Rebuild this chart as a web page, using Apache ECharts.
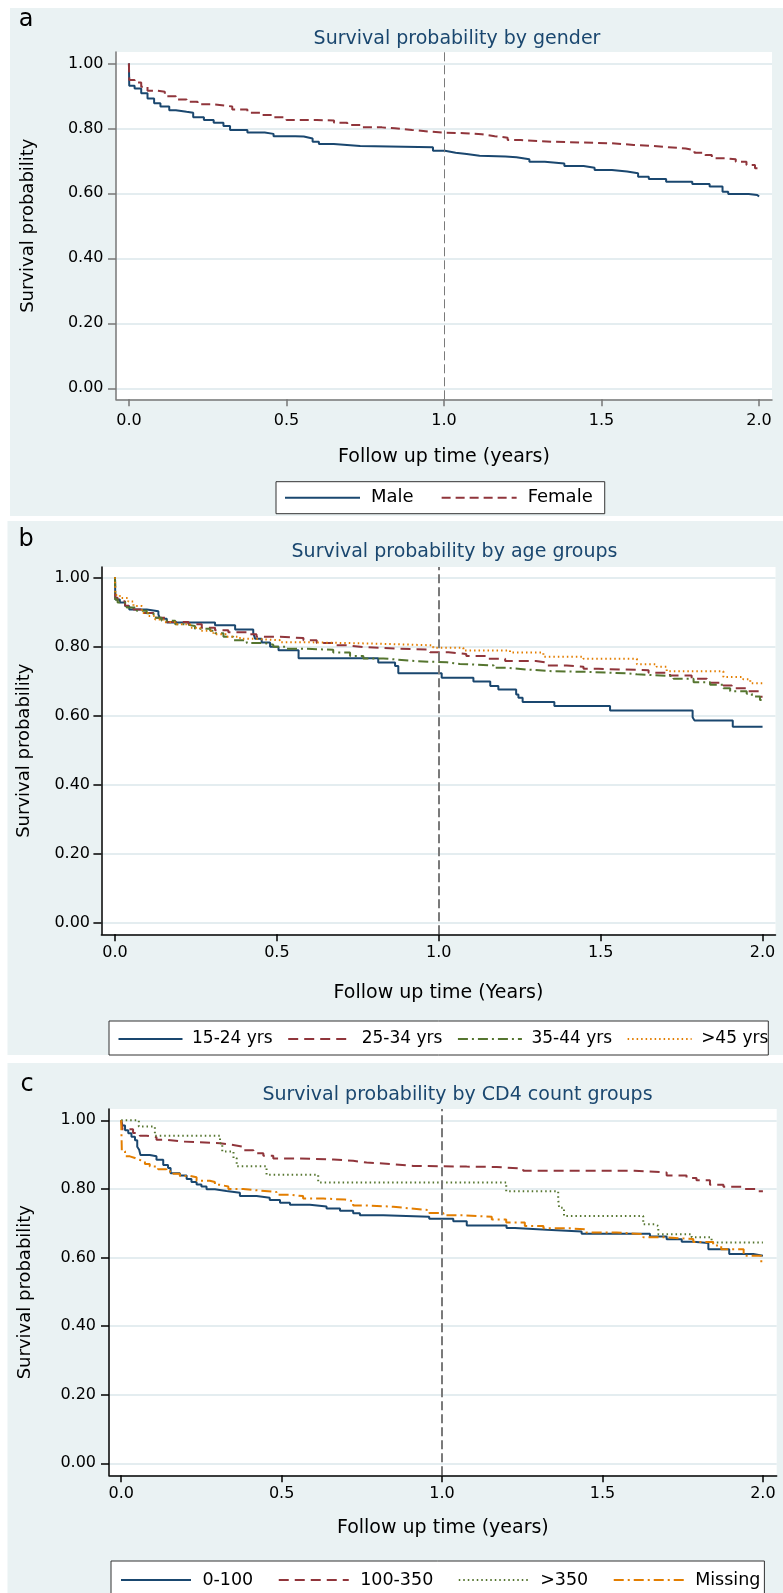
<!DOCTYPE html>
<html>
<head>
<meta charset="utf-8">
<title>Survival probability</title>
<script src="https://cdn.jsdelivr.net/npm/echarts@6/dist/echarts.min.js"></script>
<style>
  html, body { margin: 0; padding: 0; background: #fff; }
  #chart { width: 783px; height: 1593px; }
</style>
</head>
<body>
<div id="chart"></div>
<script>
// a - gender
const maleT = [0, 0.001, 0.018, 0.039, 0.059, 0.08, 0.10, 0.128, 0.149, 0.183, 0.204, 0.238, 0.269, 0.30, 0.321, 0.376, 0.431, 0.459, 0.528, 0.555, 0.583, 0.603, 0.650, 0.734, 0.965, 1.003, 1.037, 1.072, 1.113, 1.195, 1.23, 1.271, 1.32, 1.382, 1.443, 1.478, 1.533, 1.581, 1.616, 1.65, 1.705, 1.788, 1.843, 1.884, 1.902, 1.967, 1.994, 2.0];
const maleS = [1, 0.931, 0.923, 0.908, 0.892, 0.877, 0.867, 0.856, 0.851, 0.848, 0.834, 0.826, 0.817, 0.807, 0.795, 0.787, 0.783, 0.776, 0.775, 0.769, 0.759, 0.752, 0.746, 0.742, 0.731, 0.725, 0.721, 0.716, 0.713, 0.711, 0.705, 0.697, 0.692, 0.684, 0.679, 0.672, 0.667, 0.662, 0.651, 0.644, 0.636, 0.629, 0.621, 0.605, 0.598, 0.595, 0.590, 0.590];
const femaleT = [0, 0.001, 0.018, 0.039, 0.059, 0.087, 0.114, 0.149, 0.183, 0.218, 0.266, 0.307, 0.328, 0.376, 0.424, 0.459, 0.5, 0.596, 0.651, 0.693, 0.741, 0.803, 0.844, 0.899, 0.955, 0.995, 1.065, 1.12, 1.161, 1.202, 1.244, 1.34, 1.533, 1.602, 1.657, 1.712, 1.767, 1.795, 1.829, 1.85, 1.891, 1.926, 1.96, 1.987, 2.0];
const femaleS = [1, 0.949, 0.941, 0.928, 0.916, 0.913, 0.899, 0.889, 0.882, 0.874, 0.870, 0.867, 0.858, 0.848, 0.841, 0.834, 0.826, 0.824, 0.817, 0.810, 0.803, 0.800, 0.795, 0.790, 0.787, 0.785, 0.782, 0.776, 0.771, 0.764, 0.759, 0.754, 0.749, 0.746, 0.742, 0.738, 0.733, 0.725, 0.718, 0.708, 0.705, 0.697, 0.687, 0.677, 0.672];

// b - age groups
const age1T = [0, 0.001, 0.015, 0.031, 0.044, 0.098, 0.134, 0.139, 0.16, 0.309, 0.371, 0.427, 0.433, 0.453, 0.479, 0.505, 0.567, 0.813, 0.865, 0.875, 1.009, 1.107, 1.159, 1.184, 1.239, 1.246, 1.259, 1.357, 1.529, 1.784, 1.79, 1.908, 2.0];
const age1S = [1, 0.936, 0.927, 0.917, 0.907, 0.902, 0.893, 0.880, 0.869, 0.861, 0.849, 0.838, 0.822, 0.811, 0.799, 0.789, 0.766, 0.753, 0.743, 0.722, 0.709, 0.698, 0.685, 0.675, 0.661, 0.651, 0.639, 0.627, 0.614, 0.595, 0.585, 0.567, 0.567];
const age2T = [0, 0.001, 0.008, 0.031, 0.057, 0.083, 0.119, 0.16, 0.227, 0.268, 0.309, 0.35, 0.407, 0.437, 0.51, 0.582, 0.623, 0.674, 0.716, 0.767, 0.88, 0.973, 1.03, 1.085, 1.153, 1.205, 1.3, 1.333, 1.395, 1.447, 1.493, 1.648, 1.714, 1.781, 1.828, 1.879, 1.905, 1.957, 1.992, 2.0];
const age2S = [1, 0.941, 0.931, 0.918, 0.907, 0.897, 0.883, 0.871, 0.864, 0.854, 0.847, 0.841, 0.835, 0.828, 0.824, 0.818, 0.810, 0.803, 0.798, 0.793, 0.791, 0.783, 0.778, 0.772, 0.764, 0.758, 0.753, 0.745, 0.741, 0.735, 0.731, 0.724, 0.716, 0.706, 0.695, 0.687, 0.679, 0.670, 0.654, 0.654];
const age3T = [0, 0.001, 0.008, 0.036, 0.067, 0.098, 0.119, 0.144, 0.186, 0.216, 0.247, 0.294, 0.309, 0.335, 0.366, 0.407, 0.458, 0.489, 0.53, 0.592, 0.674, 0.726, 0.767, 0.829, 0.87, 0.932, 1.025, 1.065, 1.17, 1.21, 1.27, 1.354, 1.468, 1.58, 1.612, 1.725, 1.787, 1.838, 1.879, 1.9, 1.951, 1.967, 1.992, 2.0];
const age3S = [1, 0.936, 0.927, 0.913, 0.903, 0.896, 0.883, 0.874, 0.864, 0.859, 0.851, 0.845, 0.838, 0.828, 0.818, 0.810, 0.805, 0.799, 0.793, 0.790, 0.782, 0.772, 0.765, 0.762, 0.757, 0.754, 0.749, 0.745, 0.738, 0.733, 0.728, 0.726, 0.722, 0.719, 0.714, 0.706, 0.696, 0.689, 0.679, 0.670, 0.663, 0.655, 0.645, 0.645];
const age4T = [0, 0.001, 0.015, 0.041, 0.057, 0.083, 0.103, 0.124, 0.15, 0.19, 0.232, 0.263, 0.304, 0.345, 0.386, 0.427, 0.51, 0.592, 0.757, 0.88, 0.983, 1.076, 1.22, 1.323, 1.447, 1.612, 1.673, 1.704, 1.879, 1.94, 1.962, 2.0];
const age4S = [1, 0.949, 0.940, 0.930, 0.917, 0.897, 0.888, 0.878, 0.870, 0.864, 0.854, 0.845, 0.835, 0.828, 0.822, 0.818, 0.812, 0.809, 0.806, 0.803, 0.796, 0.788, 0.782, 0.770, 0.764, 0.748, 0.741, 0.728, 0.711, 0.705, 0.693, 0.693];

// c - CD4 count groups
const cd1T = [0, 0.004, 0.012, 0.022, 0.032, 0.043, 0.05, 0.056, 0.06, 0.089, 0.11, 0.131, 0.146, 0.154, 0.183, 0.204, 0.219, 0.235, 0.25, 0.266, 0.292, 0.328, 0.37, 0.422, 0.463, 0.495, 0.526, 0.588, 0.64, 0.682, 0.723, 0.744, 0.817, 0.96, 1.035, 1.077, 1.201, 1.227, 1.326, 1.435, 1.648, 1.7, 1.747, 1.783, 1.83, 1.895, 1.97, 2.0];
const cd1S = [1, 0.985, 0.971, 0.962, 0.952, 0.942, 0.923, 0.914, 0.899, 0.895, 0.885, 0.870, 0.861, 0.846, 0.839, 0.829, 0.820, 0.813, 0.807, 0.799, 0.794, 0.789, 0.779, 0.774, 0.768, 0.760, 0.754, 0.749, 0.743, 0.736, 0.729, 0.723, 0.719, 0.713, 0.706, 0.693, 0.686, 0.681, 0.676, 0.669, 0.661, 0.653, 0.646, 0.642, 0.624, 0.610, 0.605, 0.605];
const cd2T = [0, 0.004, 0.037, 0.058, 0.079, 0.11, 0.141, 0.193, 0.308, 0.349, 0.38, 0.412, 0.443, 0.474, 0.557, 0.661, 0.723, 0.765, 0.848, 0.91, 1.077, 1.17, 1.253, 1.6, 1.7, 1.762, 1.793, 1.835, 1.877, 1.934, 1.985, 2.0];
const cd2S = [1, 0.974, 0.963, 0.955, 0.951, 0.943, 0.938, 0.933, 0.928, 0.923, 0.913, 0.904, 0.897, 0.889, 0.886, 0.882, 0.877, 0.872, 0.867, 0.865, 0.864, 0.859, 0.853, 0.848, 0.839, 0.832, 0.825, 0.812, 0.806, 0.800, 0.793, 0.793];
const cd3T = [0, 0.055, 0.105, 0.308, 0.315, 0.35, 0.36, 0.453, 0.614, 1.2, 1.362, 1.365, 1.38, 1.627, 1.663, 1.674, 1.778, 1.84, 2.0];
const cd3S = [1, 0.982, 0.955, 0.933, 0.909, 0.890, 0.866, 0.841, 0.819, 0.793, 0.769, 0.745, 0.721, 0.697, 0.692, 0.668, 0.659, 0.644, 0.644];
const cd4T = [0, 0.002, 0.012, 0.027, 0.043, 0.056, 0.074, 0.089, 0.115, 0.141, 0.162, 0.183, 0.214, 0.235, 0.276, 0.292, 0.308, 0.334, 0.38, 0.422, 0.484, 0.526, 0.567, 0.63, 0.697, 0.723, 0.765, 0.848, 0.9, 0.96, 1.004, 1.066, 1.155, 1.2, 1.258, 1.316, 1.4, 1.45, 1.544, 1.627, 1.689, 1.783, 1.845, 1.87, 1.94, 1.995, 2.0];
const cd4S = [1, 0.910, 0.895, 0.890, 0.885, 0.880, 0.873, 0.865, 0.857, 0.851, 0.844, 0.838, 0.834, 0.824, 0.820, 0.812, 0.807, 0.800, 0.796, 0.791, 0.783, 0.779, 0.772, 0.769, 0.764, 0.752, 0.748, 0.743, 0.738, 0.730, 0.723, 0.719, 0.711, 0.702, 0.692, 0.685, 0.682, 0.673, 0.668, 0.659, 0.654, 0.645, 0.635, 0.624, 0.605, 0.586, 0.586];

const yearTicks = [0, 0.5, 1, 1.5, 2];
const probTicks = [0, 0.2, 0.4, 0.6, 0.8, 1];
const refYear = 1;

const navy = '#1a476f', maroon = '#90353b', green = '#55752f', orange = '#e37e00';
const panelBg = '#eaf2f3';
const font = 'DejaVu Sans';

function km(t, s) {
    return t.map((x, i) => [x, s[i]]);
}

function curve(name, idx, t, s, color, type) {
    return {
        name: name,
        type: 'line',
        xAxisIndex: idx,
        yAxisIndex: idx,
        step: 'end',
        symbol: 'none',
        data: km(t, s),
        lineStyle: { color: color, width: 2, type: type },
        itemStyle: { color: color },
        emphasis: { disabled: true }
    };
}

function refLine(lineWidth, dash) {
    return {
        silent: true,
        symbol: ['none', 'none'],
        label: { show: false },
        lineStyle: { color: '#7a7a7a', width: lineWidth, type: dash },
        data: [{ xAxis: refYear }]
    };
}

function xAxis(idx, min, max, name, gap, margin, lineColor) {
    return {
        type: 'value', gridIndex: idx, min: min, max: max,
        name: name, nameLocation: 'middle', nameGap: gap,
        nameTextStyle: { fontSize: 19, color: '#000', fontFamily: font },
        axisLine: { onZero: false, lineStyle: { color: lineColor, width: 1.5 } },
        axisTick: { customValues: yearTicks, length: 7, lineStyle: { color: lineColor, width: 1.5 } },
        axisLabel: { customValues: yearTicks, margin: margin, fontSize: 16, color: '#000', fontFamily: font,
            formatter: v => v.toFixed(1) },
        splitLine: { show: false }
    };
}

function yAxis(idx, min, max, gap, margin, lineColor) {
    return {
        type: 'value', gridIndex: idx, min: min, max: max,
        name: 'Survival probability', nameLocation: 'middle', nameGap: gap,
        nameTextStyle: { fontSize: 18, color: '#000', fontFamily: font },
        axisLine: { onZero: false, lineStyle: { color: lineColor, width: 1.5 } },
        axisTick: { customValues: probTicks, length: 8, lineStyle: { color: lineColor, width: 1.5 } },
        axisLabel: { customValues: probTicks, margin: margin, fontSize: 16, color: '#000', fontFamily: font,
            formatter: v => v.toFixed(2) },
        splitLine: { show: true, lineStyle: { color: '#e4edf0', width: 2 } }
    };
}

function legend(names, left, top, itemWidth, itemGap, textPad, fontSize, padding) {
    return {
        data: names, left: left, top: top, orient: 'horizontal',
        itemWidth: itemWidth, itemHeight: 12, itemGap: itemGap, padding: padding,
        backgroundColor: '#fff', borderColor: '#333', borderWidth: 1, borderRadius: 0,
        selectedMode: false,
        // line only, no marker in the key
        itemStyle: { opacity: 0 },
        textStyle: { fontSize: fontSize, color: '#000', fontFamily: font, lineHeight: 20, padding: [0, 0, 0, textPad] }
    };
}

function text(str, x, y, size, color) {
    return {
        type: 'text', x: x, y: y, silent: true,
        style: { text: str, fontSize: size, fontFamily: font, fill: color, align: 'center', verticalAlign: 'middle' }
    };
}

const chart = echarts.init(document.getElementById('chart'), null, { renderer: 'canvas' });

const maleSeries = curve('Male', 0, maleT, maleS, navy, 'solid');
maleSeries.markLine = refLine(1, [9, 4]);
const age1Series = curve('15-24 yrs', 1, age1T, age1S, navy, 'solid');
age1Series.markLine = refLine(2, [9, 4]);
const cd1Series = curve('0-100', 2, cd1T, cd1S, navy, 'solid');
cd1Series.markLine = refLine(2, [9, 4]);

chart.setOption({
    animation: false,
    textStyle: { fontFamily: font },
    graphic: [
        { type: 'rect', z: -10, silent: true, shape: { x: 10, y: 8, width: 773, height: 508 }, style: { fill: panelBg } },
        { type: 'rect', z: -10, silent: true, shape: { x: 7.5, y: 521, width: 775.5, height: 534 }, style: { fill: panelBg } },
        { type: 'rect', z: -10, silent: true, shape: { x: 7.5, y: 1063, width: 775.5, height: 530 }, style: { fill: panelBg } },
        text('a', 26, 20, 24, '#000'),
        text('b', 26, 540, 24, '#000'),
        text('c', 27, 1085, 24, '#000'),
        text('Survival probability by gender', 457, 39, 19, navy),
        text('Survival probability by age groups', 454.5, 552.5, 19, navy),
        text('Survival probability by CD4 count groups', 457.5, 1095, 19, navy)
    ],
    grid: [
        { left: 116, top: 52, width: 656, height: 347.3, show: true, backgroundColor: '#fff', borderWidth: 0 },
        { left: 101.4, top: 567, width: 674.1, height: 367.3, show: true, backgroundColor: '#fff', borderWidth: 0 },
        { left: 109, top: 1109, width: 667.7, height: 366.3, show: true, backgroundColor: '#fff', borderWidth: 0 }
    ],
    xAxis: [
        xAxis(0, -0.041, 2.041, 'Follow up time (years)', 48, 13.5, '#777'),
        xAxis(1, -0.042, 2.040, 'Follow up time (Years)', 49, 10.5, '#000'),
        xAxis(2, -0.038, 2.043, 'Follow up time (years)', 43, 11, '#000')
    ],
    yAxis: [
        yAxis(0, -0.034, 1.035, 79, 12.5, '#777'),
        yAxis(1, -0.034, 1.030, 68, 11.4, '#000'),
        yAxis(2, -0.035, 1.033, 75, 13, '#000')
    ],
    legend: [
        legend(['Male', 'Female'], 276, 481.7, 75, 27, 6, 18, [6, 12, 6, 8]),
        legend(['15-24 yrs', '25-34 yrs', '35-44 yrs', '>45 yrs'], 109, 1021, 64, 14.5, 4.5, 17, [8, 0, 6, 8.5]),
        legend(['0-100', '100-350', '>350', 'Missing'], 111, 1561, 70, 24.5, 6.4, 17.5, [9, 4, 6, 9])
    ],
    series: [
        maleSeries,
        curve('Female', 0, femaleT, femaleS, maroon, [9, 5]),
        age1Series,
        curve('25-34 yrs', 1, age2T, age2S, maroon, [10, 6]),
        curve('35-44 yrs', 1, age3T, age3S, green, [10, 4, 2, 4]),
        curve('>45 yrs', 1, age4T, age4S, orange, [1.5, 3]),
        cd1Series,
        curve('100-350', 2, cd2T, cd2S, maroon, [10, 6]),
        curve('>350', 2, cd3T, cd3S, green, [1.5, 3]),
        curve('Missing', 2, cd4T, cd4S, orange, [10, 4, 2, 4])
    ]
});
</script>
</body>
</html>
